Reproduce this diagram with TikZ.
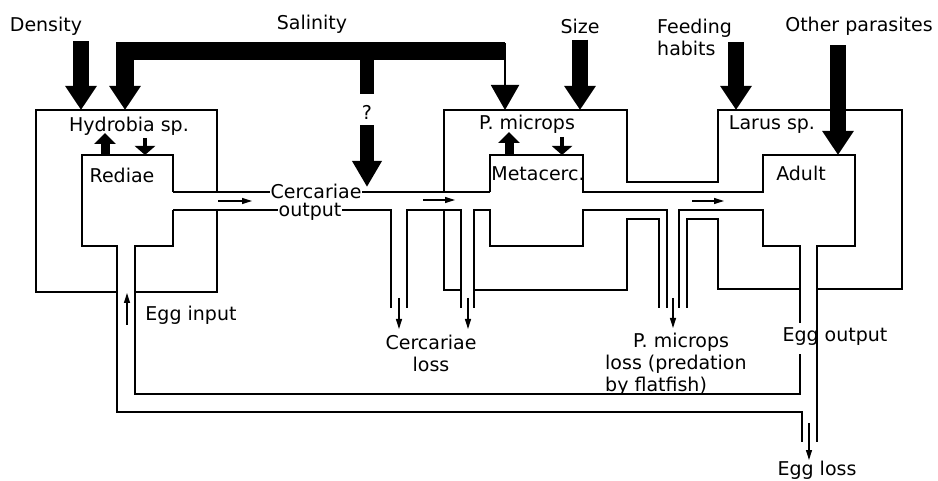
\documentclass[tikz,border=0pt]{standalone}
\usepackage{fontspec}
\setmainfont{DejaVu Sans}
\usetikzlibrary{arrows.meta}

\begin{document}
\begin{tikzpicture}[x=1pt, y=-1pt,
        wall/.style={line width=1.6pt},
        bigarrow/.style={line width=16pt, -{Triangle[width=30pt,length=24pt]}},
        uparrow/.style={line width=9pt, -{Triangle[width=21pt,length=11pt]}},
        downarrow/.style={line width=4pt, -{Triangle[width=20pt,length=9pt]}},
        flow/.style={line width=1.3pt, -{Triangle[width=6pt,length=10pt]}},
        lbl/.style={font=\fontsize{19}{22}\selectfont, inner sep=2pt},
        cutlbl/.style={lbl, fill=white, inner sep=1pt}]
        \useasboundingbox (0,0) rectangle (938,481);

        % walls: Hydrobia / Rediae
        \draw[wall] (217,192) -- (217,110) -- (36,110) -- (36,292) -- (117,292);
        \draw[wall] (135,292) -- (217,292) -- (217,210);
        \draw[wall] (173,192) -- (173,155) -- (82,155) -- (82,246) -- (117,246) -- (117,412) -- (802,412) -- (802,442);
        \draw[wall] (173,210) -- (173,246) -- (135,246) -- (135,394) -- (800,394) -- (800,354);

        % cercariae channel and losses
        \draw[wall] (173,192) -- (490,192);
        \draw[wall] (173,210) -- (391,210) -- (391,308);
        \draw[wall] (407,308) -- (407,210) -- (461,210) -- (461,308);

        % P. microps / Metacerc. / Larus / Adult
        \draw[wall] (490,192) -- (490,155) -- (583,155) -- (583,192) -- (763,192) -- (763,155) -- (855,155) -- (855,246) -- (817,246) -- (817,442);
        \draw[wall] (474,308) -- (474,210) -- (490,210) -- (490,246) -- (583,246) -- (583,210) -- (667,210) -- (667,308);
        \draw[wall] (679,308) -- (679,210) -- (763,210) -- (763,246) -- (800,246) -- (800,323);
        \draw[wall] (444,192) -- (444,110) -- (627,110) -- (627,182) -- (718,182) -- (718,110) -- (902,110) -- (902,289) -- (817,289);
        \draw[wall] (444,210) -- (444,290) -- (461,290);
        \draw[wall] (474,290) -- (627,290) -- (627,219) -- (659,219) -- (659,308);
        \draw[wall] (687,308) -- (687,219) -- (718,219) -- (718,289) -- (800,289);

        % labels
        \node[lbl] (dens) at (46,26) {Density};
        \node[lbl] (sal) at (312,24) {Salinity};
        \node[lbl] (size) at (580,26) {Size};
        \node[lbl, align=left, anchor=west] (feed) at (655,37) {Feeding\\habits};
        \node[lbl] (other) at (859,26) {Other parasites};
        \node[lbl] (hyd) at (129,126) {Hydrobia sp.};
        \node[lbl] (red) at (122,175) {Rediae};
        \node[cutlbl] (cerc) at (316,191) {Cercariae};
        \node[cutlbl] (outp) at (310,212) {output};
        \node[lbl] (qm) at (367,112) {?};
        \node[lbl] (pmic) at (527,124) {P. microps};
        \node[lbl] (meta) at (538,174) {Metacerc.};
        \node[lbl] (larus) at (772,125) {Larus sp.};
        \node[lbl] (adult) at (801,173) {Adult};
        \node[lbl] (egin) at (191,315) {Egg input};
        \node[lbl, align=center] (closs) at (431,353) {Cercariae\\loss};
        \node[lbl, align=left, anchor=north west] (ploss) at (603,331) {\hspace{28pt}P. microps\\loss (predation\\by flatfish)};
        \node[lbl] (egout) at (835,337) {Egg output};
        \node[lbl] (egloss) at (817,470) {Egg loss};

        % end points on the boxes
        \coordinate (hydD) at (81,110);
        \coordinate (salR) at (505,51);
        \coordinate (salL) at (125,51);
        \coordinate (hydS) at (125,110);
        \coordinate (salQ) at (367,51);
        \coordinate (cercQ) at (367,187);
        \coordinate (pmicS) at (505,110);
        \coordinate (pmicZ) at (580,110);
        \coordinate (feedF) at (736,42);
        \coordinate (larF) at (736,110);
        \coordinate (adultO) at (838,155);

        % big arrows
        \draw[bigarrow, shorten <=4pt] (hydD |- dens.south) -- (hydD);
        \draw[bigarrow, line width=18pt] (salR) -- (salL) -- (hydS);
        \draw[line width=2pt, -{Triangle[width=28pt,length=25pt]}] (505,43) -- (pmicS);
        \draw[line width=14pt, shorten >=9pt] (salQ) -- (qm.north);
        \draw[bigarrow, line width=14pt, -{Triangle[width=28pt,length=26pt]}, shorten <=4pt] (qm.south) -- (cercQ);
        \draw[bigarrow, shorten <=4pt] (size.south) -- (pmicZ);
        \draw[bigarrow] (feedF) -- (larF);
        \draw[bigarrow, shorten <=8pt] (adultO |- other.south) -- (adultO);

        % exchange arrows
        \draw[uparrow] (105,155) -- (105,133);
        \draw[downarrow] (145,138) -- (145,155);
        \draw[uparrow] (509,155) -- (509,132);
        \draw[downarrow] (562,137) -- (562,155);

        % flow arrows
        \draw[flow] (218,201) -- (252,201);
        \draw[flow] (423,200) -- (455,200);
        \draw[flow] (692,201) -- (724,201);
        \draw[flow] (127,325) -- (127,293);
        \draw[flow] (399,298) -- (399,329);
        \draw[flow] (468,298) -- (468,329);
        \draw[flow] (673,298) -- (673,328);
        \draw[flow] (809,423) -- (809,460);
    \end{tikzpicture}
\end{document}
